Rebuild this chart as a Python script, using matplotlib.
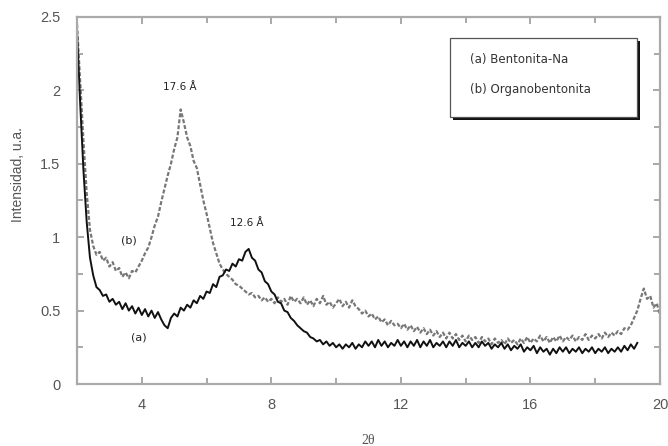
import numpy as np
import matplotlib
matplotlib.use("Agg")
import matplotlib.pyplot as plt
from matplotlib.patches import Rectangle
from matplotlib.ticker import MultipleLocator

# ---- data (2theta grid starts at 2.0, step 0.1) ----
x_start = 2.0
x_step = 0.1

# (b) Organobentonita, 2.0 .. 20.0
organo = [
    2.45, 2.05, 1.65, 1.30, 1.05, 0.94, 0.88, 0.90, 0.84, 0.86,
    0.80, 0.83, 0.77, 0.79, 0.73, 0.76, 0.72, 0.77, 0.76, 0.80,
    0.84, 0.89, 0.93, 1.00, 1.08, 1.14, 1.24, 1.33, 1.42, 1.50,
    1.60, 1.68, 1.87, 1.78, 1.68, 1.62, 1.52, 1.47, 1.36, 1.25,
    1.16, 1.06, 0.96, 0.89, 0.82, 0.78, 0.75, 0.73, 0.71, 0.68,
    0.67, 0.65, 0.63, 0.61, 0.62, 0.59, 0.60, 0.57, 0.59, 0.56,
    0.58, 0.55, 0.59, 0.56, 0.58, 0.54, 0.60, 0.56, 0.58, 0.55,
    0.59, 0.54, 0.57, 0.53, 0.58, 0.55, 0.60, 0.54, 0.56, 0.52,
    0.55, 0.58, 0.53, 0.56, 0.52, 0.57, 0.53, 0.51, 0.48, 0.50,
    0.46, 0.48, 0.44, 0.46, 0.42, 0.44, 0.40, 0.43, 0.40, 0.41,
    0.38, 0.41, 0.37, 0.40, 0.36, 0.39, 0.35, 0.38, 0.34, 0.37,
    0.33, 0.36, 0.32, 0.35, 0.31, 0.35, 0.31, 0.34, 0.30, 0.33,
    0.29, 0.33, 0.30, 0.32, 0.28, 0.32, 0.29, 0.31, 0.27, 0.31,
    0.28, 0.30, 0.27, 0.31, 0.28, 0.30, 0.27, 0.31, 0.28, 0.32,
    0.28, 0.31, 0.29, 0.33, 0.29, 0.32, 0.28, 0.32, 0.29, 0.33,
    0.29, 0.32, 0.30, 0.33, 0.29, 0.32, 0.30, 0.34, 0.30, 0.33,
    0.31, 0.34, 0.31, 0.35, 0.32, 0.35, 0.33, 0.36, 0.34, 0.38,
    0.37, 0.40, 0.45, 0.50, 0.58, 0.65, 0.58, 0.60, 0.52, 0.55,
    0.47,
]

# (a) Bentonita-Na, 2.0 .. 19.3
bentonita = [
    2.40, 1.90, 1.45, 1.10, 0.86, 0.74, 0.66, 0.64, 0.60, 0.61,
    0.56, 0.58, 0.54, 0.56, 0.51, 0.55, 0.50, 0.53, 0.48, 0.52,
    0.47, 0.51, 0.46, 0.50, 0.45, 0.49, 0.44, 0.40, 0.38, 0.45,
    0.48, 0.46, 0.52, 0.50, 0.54, 0.52, 0.57, 0.55, 0.60, 0.58,
    0.63, 0.62, 0.68, 0.66, 0.73, 0.74, 0.78, 0.77, 0.82, 0.80,
    0.85, 0.84, 0.90, 0.92, 0.86, 0.84, 0.78, 0.76, 0.70, 0.68,
    0.63, 0.61, 0.56, 0.55, 0.50, 0.49, 0.45, 0.43, 0.40, 0.38,
    0.36, 0.35, 0.32, 0.31, 0.29, 0.30, 0.27, 0.29, 0.26, 0.28,
    0.25, 0.27, 0.24, 0.27, 0.25, 0.28, 0.24, 0.27, 0.25, 0.29,
    0.26, 0.29, 0.25, 0.30, 0.26, 0.29, 0.25, 0.28, 0.26, 0.30,
    0.26, 0.29, 0.25, 0.29, 0.26, 0.30, 0.25, 0.29, 0.26, 0.30,
    0.25, 0.28, 0.26, 0.29, 0.25, 0.29, 0.26, 0.30, 0.25, 0.28,
    0.26, 0.29, 0.25, 0.28, 0.25, 0.29, 0.26, 0.28, 0.24, 0.27,
    0.25, 0.28, 0.24, 0.27, 0.23, 0.26, 0.24, 0.27, 0.22, 0.25,
    0.23, 0.26, 0.21, 0.25, 0.22, 0.24, 0.20, 0.24, 0.21, 0.25,
    0.22, 0.25, 0.21, 0.24, 0.22, 0.25, 0.21, 0.24, 0.22, 0.25,
    0.21, 0.24, 0.22, 0.25, 0.21, 0.24, 0.22, 0.25, 0.22, 0.26,
    0.23, 0.27, 0.24, 0.28,
]

x_ticks = [4, 8, 12, 16, 20]
y_ticks = [0, 0.5, 1, 1.5, 2, 2.5]
y_tick_labels = ["0", "0.5", "1", "1.5", "2", "2.5"]
legend_lines = ["(a) Bentonita-Na", "(b) Organobentonita"]
peak_labels = ["17.6 Å", "12.6 Å"]

x_b = x_start + x_step * np.arange(len(organo))
x_a = x_start + x_step * np.arange(len(bentonita))

plt.rcParams['font.family'] = ['Liberation Sans', 'DejaVu Sans']

fig = plt.figure(figsize=(6.68, 4.46), dpi=100)
ax = fig.add_axes([0.1153, 0.139, 0.8727, 0.823])

ax.plot(x_b, organo, color='#777777', lw=1.6, ls=(0, (1.8, 0.9)))
ax.plot(x_a, bentonita, color='#111111', lw=1.4)

ax.set_xlim(2, 20)
ax.set_ylim(0, 2.5)
ax.set_xticks(x_ticks)
ax.xaxis.set_minor_locator(MultipleLocator(2))
ax.set_yticks(y_ticks)
ax.set_yticklabels(y_tick_labels)
ax.yaxis.set_minor_locator(MultipleLocator(0.25))
ax.tick_params(which='both', direction='in', top=True, right=True,
               color='#999999', labelcolor='#555555', labelsize=10.5)
ax.tick_params(which='major', length=5, width=1.2)
ax.tick_params(which='minor', length=4, width=1.2)
ax.tick_params(axis='x', pad=10)
ax.tick_params(axis='y', pad=12)
for s in ax.spines.values():
    s.set_color('#aaaaaa')
    s.set_linewidth(1.6)

ax.set_xlabel('2θ', family=['Liberation Serif', 'DejaVu Serif'], fontsize=10,
              color='#555555')
ax.xaxis.set_label_coords(0.5, -0.135)
ax.set_ylabel('Intensidad, u.a.', fontsize=10, color='#555555')
ax.yaxis.set_label_coords(-0.09, 0.57)

# peak annotations
ann_font = ['DejaVu Sans']
ax.text(5.17, 2.02, peak_labels[0], fontsize=7.5, family=ann_font, color='#222222', ha='center', va='center')
ax.text(7.23, 1.10, peak_labels[1], fontsize=7.5, family=ann_font, color='#222222', ha='center', va='center')
ax.text(3.6, 0.98, '(b)', fontsize=8, family=ann_font, color='#222222', ha='center', va='center')
ax.text(3.9, 0.32, '(a)', fontsize=8, family=ann_font, color='#222222', ha='center', va='center')

# legend box with shadow
bx0, bx1, by0, by1 = 0.640, 0.9605, 0.7275, 0.943
ax.add_patch(Rectangle((bx0 + 0.005, by0 - 0.008), bx1 - bx0, by1 - by0,
                       transform=ax.transAxes, facecolor='#111111',
                       edgecolor='none', zorder=5))
ax.add_patch(Rectangle((bx0, by0), bx1 - bx0, by1 - by0,
                       transform=ax.transAxes, facecolor='white',
                       edgecolor='#555555', lw=0.9, zorder=6))
ax.text(0.674, 0.883, legend_lines[0], transform=ax.transAxes, fontsize=8.5,
        family=ann_font, color='#333333', va='center', zorder=7)
ax.text(0.674, 0.801, legend_lines[1], transform=ax.transAxes, fontsize=8.5,
        family=ann_font, color='#333333', va='center', zorder=7)

fig.savefig('out.png', dpi=100)
